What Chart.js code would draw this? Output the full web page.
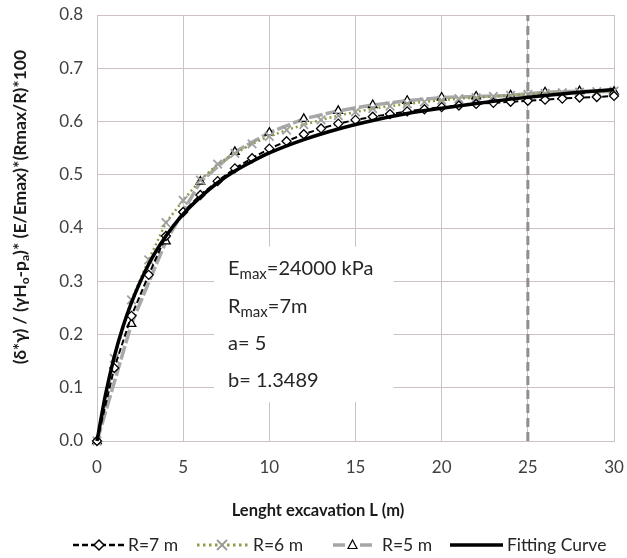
<!DOCTYPE html>
<html lang="en">
<head>
    <meta charset="UTF-8">
    <title>Lenght excavation chart</title>
    <script src="https://cdn.jsdelivr.net/npm/chart.js"></script>
    <style>
        body { margin: 0; background: #fff; }
    </style>
</head>
<body>
    <canvas id="myChart" width="627" height="558"></canvas>
    <script>
        // lengths (m)
        const lengthsEvery1 = [0,1,2,3,4,5,6,7,8,9,10,11,12,13,14,15,16,17,18,19,20,21,22,23,24,25,26,27,28,29,30];
        const lengthsEvery2 = [0,2,4,6,8,10,12,14,16,18,20,22,24,26,28,30];
        const lengthsFit = [0,0.5,1,1.5,2,3,4,5,6,7,8,9,10,12,14,16,18,20,22,24,26,28,30];

        const r7 = [0,0.137,0.235,0.312,0.385,0.430,0.462,0.488,0.512,0.531,0.549,0.563,0.576,0.587,0.596,0.603,0.609,0.614,0.619,0.623,0.627,0.630,0.633,0.635,0.637,0.639,0.641,0.643,0.645,0.646,0.648];
        const r6 = [0,0.155,0.265,0.340,0.410,0.452,0.490,0.520,0.540,0.558,0.572,0.584,0.594,0.603,0.611,0.618,0.624,0.629,0.633,0.637,0.640,0.643,0.645,0.647,0.649,0.651,0.653,0.654,0.655,0.656,0.657];
        const r5 = [0,0.220,0.375,0.487,0.543,0.579,0.605,0.620,0.631,0.639,0.645,0.647,0.649,0.655,0.657,0.656];
        const fit = [0,0.088,0.158,0.214,0.260,0.332,0.385,0.426,0.458,0.485,0.507,0.525,0.541,0.566,0.586,0.602,0.615,0.625,0.634,0.642,0.649,0.655,0.660];
        const limitLine = [25, 25];
        const limitY = [0, 0.8];

        const xTicks = [0,5,10,15,20,25,30];
        const yTicks = [0,0.1,0.2,0.3,0.4,0.5,0.6,0.7,0.8];

        const gridColor = 'rgb(204,194,194)';
        const dotsColor = '#8f9c45';

        function pts(xs, ys) {
            return xs.map((x, i) => ({x: x, y: ys[i]}));
        }

        // text with subscript parts
        function richWidth(ctx, parts, size, subSize, weight) {
            let w = 0;
            parts.forEach(p => {
                ctx.font = weight + ' ' + (p.sub ? subSize : size) + 'px Lato';
                w += ctx.measureText(p.t).width;
            });
            return w;
        }
        function drawRich(ctx, parts, x, y, size, subSize, drop, weight) {
            parts.forEach(p => {
                ctx.font = weight + ' ' + (p.sub ? subSize : size) + 'px Lato';
                ctx.fillText(p.t, x, p.sub ? y + drop : y);
                x += ctx.measureText(p.t).width;
            });
        }

        const extras = {
            id: 'extras',
            beforeDatasetsDraw(chart) {
                const ctx = chart.ctx;
                const xs = chart.scales.x, ys = chart.scales.y;
                // white text box covering the grid
                ctx.save();
                ctx.fillStyle = '#fff';
                const bx = xs.getPixelForValue(6.8), by = ys.getPixelForValue(0.365);
                ctx.fillRect(bx, by, xs.getPixelForValue(17.2) - bx, ys.getPixelForValue(0.073) - by);
                ctx.restore();
            },
            afterDraw(chart) {
                const ctx = chart.ctx;
                ctx.save();
                ctx.fillStyle = '#262626';
                ctx.textBaseline = 'alphabetic';
                ctx.textAlign = 'left';
                // annotation
                const tx = 228;
                drawRich(ctx, [{t: 'E'}, {t: 'max', sub: true}, {t: '=24000 kPa'}], tx, 275, 20, 15, 4, 'normal');
                drawRich(ctx, [{t: 'R'}, {t: 'max', sub: true}, {t: '=7m'}], tx, 313, 20, 15, 4, 'normal');
                drawRich(ctx, [{t: 'a= 5'}], tx, 350, 20, 15, 4, 'normal');
                drawRich(ctx, [{t: 'b= 1.3489'}], tx, 386.5, 20, 15, 4, 'normal');

                // x title
                ctx.font = 'bold 16.5px Lato';
                ctx.textAlign = 'center';
                ctx.textBaseline = 'middle';
                ctx.fillStyle = '#1a1a1a';
                ctx.fillText('Lenght excavation L (m)', 318, 511);

                // y title (rotated, with subscripts)
                const yParts = [{t: '(\u03b4*\u03b3) / (\u03b3H'}, {t: 'o', sub: true}, {t: '-p'}, {t: 'a', sub: true}, {t: ')* (E/Emax)*(Rmax/R)*100'}];
                ctx.translate(20, 207);
                ctx.rotate(-Math.PI / 2);
                ctx.textAlign = 'left';
                ctx.textBaseline = 'middle';
                const w = richWidth(ctx, yParts, 17.5, 12, 'bold');
                drawRich(ctx, yParts, -w / 2, 0, 17.5, 12, 5, 'bold');
                ctx.restore();

                // legend
                ctx.save();
                const ly = 545;
                ctx.lineCap = 'butt';
                // R=7
                ctx.strokeStyle = '#000'; ctx.lineWidth = 2.5; ctx.setLineDash([6, 3]);
                ctx.beginPath(); ctx.moveTo(73, ly); ctx.lineTo(125, ly); ctx.stroke();
                ctx.setLineDash([]);
                ctx.fillStyle = '#fff'; ctx.strokeStyle = '#000'; ctx.lineWidth = 1.5;
                ctx.beginPath(); ctx.moveTo(99, ly - 5); ctx.lineTo(104, ly); ctx.lineTo(99, ly + 5); ctx.lineTo(94, ly); ctx.closePath(); ctx.fill(); ctx.stroke();
                // R=6
                ctx.strokeStyle = dotsColor; ctx.lineWidth = 3; ctx.setLineDash([2.5, 3.5]);
                ctx.beginPath(); ctx.moveTo(197, ly); ctx.lineTo(248, ly); ctx.stroke();
                ctx.setLineDash([]);
                ctx.strokeStyle = '#9a9a9a'; ctx.lineWidth = 1.8;
                ctx.beginPath(); ctx.moveTo(217, ly - 5); ctx.lineTo(227, ly + 5); ctx.moveTo(227, ly - 5); ctx.lineTo(217, ly + 5); ctx.stroke();
                // R=5
                ctx.strokeStyle = '#a6a6a6'; ctx.lineWidth = 3.5;
                ctx.beginPath(); ctx.moveTo(333, ly); ctx.lineTo(345, ly); ctx.moveTo(360, ly); ctx.lineTo(372, ly); ctx.stroke();
                ctx.strokeStyle = '#000'; ctx.lineWidth = 1.2;
                ctx.beginPath(); ctx.moveTo(352.5, ly - 5); ctx.lineTo(357, ly + 3.5); ctx.lineTo(348, ly + 3.5); ctx.closePath(); ctx.stroke();
                // fitting
                ctx.strokeStyle = '#000'; ctx.lineWidth = 3.5;
                ctx.beginPath(); ctx.moveTo(450, ly); ctx.lineTo(503, ly); ctx.stroke();

                ctx.fillStyle = '#262626';
                ctx.font = '17.5px Lato';
                ctx.textAlign = 'left';
                ctx.textBaseline = 'middle';
                ctx.fillText('R=7 m', 128, ly);
                ctx.fillText('R=6 m', 253, ly);
                ctx.fillText('R=5 m', 382, ly);
                ctx.fillText('Fitting Curve', 507, ly);
                ctx.restore();
            }
        };

        const ctx = document.getElementById('myChart');
        new Chart(ctx, {
            type: 'line',
            data: {
                datasets: [
                    {
                        label: 'Limit',
                        data: pts(limitLine, limitY),
                        borderColor: '#8f8f8f',
                        borderWidth: 3,
                        borderDash: [9, 5],
                        pointRadius: 0,
                        order: 5
                    },
                    {
                        label: 'R=5 m',
                        data: pts(lengthsEvery2, r5),
                        borderColor: '#a8a8a8',
                        borderWidth: 3.5,
                        borderDash: [14, 3],
                        pointStyle: 'triangle',
                        pointRadius: 5,
                        pointBorderColor: '#000',
                        pointBackgroundColor: '#fff',
                        pointBorderWidth: 1.3,
                        clip: false,
                        order: 4
                    },
                    {
                        label: 'R=6 m',
                        data: pts(lengthsEvery1, r6),
                        borderColor: dotsColor,
                        borderWidth: 2.5,
                        borderDash: [2, 3],
                        pointStyle: 'crossRot',
                        pointRadius: 6,
                        pointBorderColor: '#a0a0a0',
                        pointBorderWidth: 1.8,
                        clip: false,
                        order: 3
                    },
                    {
                        label: 'R=7 m',
                        data: pts(lengthsEvery1, r7),
                        borderColor: '#000',
                        borderWidth: 2,
                        borderDash: [6, 3],
                        pointStyle: 'rectRot',
                        pointRadius: 4.5,
                        pointBorderColor: '#000',
                        pointBackgroundColor: '#fff',
                        pointBorderWidth: 1.3,
                        clip: false,
                        order: 2
                    },
                    {
                        label: 'Fitting Curve',
                        data: pts(lengthsFit, fit),
                        borderColor: '#000',
                        borderWidth: 3.5,
                        pointRadius: 0,
                        cubicInterpolationMode: 'monotone',
                        clip: false,
                        order: 1
                    }
                ]
            },
            options: {
                responsive: false,
                animation: false,
                layout: { padding: { left: 0, top: 15, right: 13, bottom: 0 } },
                plugins: {
                    legend: { display: false },
                    tooltip: { enabled: false }
                },
                scales: {
                    x: {
                        type: 'linear',
                        min: 0,
                        max: 30,
                        afterBuildTicks: (s) => { s.ticks = xTicks.map(v => ({value: v})); },
                        afterFit: (s) => { s.height = 117; s.paddingLeft = 0; s.paddingRight = 0; },
                        grid: { color: gridColor, drawTicks: false },
                        border: { color: gridColor },
                        ticks: { padding: 16, color: '#404040', font: { family: 'Lato', size: 17 } }
                    },
                    y: {
                        min: 0,
                        max: 0.8,
                        afterBuildTicks: (s) => { s.ticks = yTicks.map(v => ({value: v})); },
                        afterFit: (s) => { s.width = 97; s.paddingTop = 0; s.paddingBottom = 0; },
                        grid: { color: gridColor, drawTicks: false },
                        border: { color: gridColor },
                        ticks: {
                            padding: 14,
                            color: '#404040',
                            font: { family: 'Lato', size: 17 },
                            callback: (v) => v.toFixed(1)
                        }
                    }
                }
            },
            plugins: [extras]
        });
    </script>
</body>
</html>
